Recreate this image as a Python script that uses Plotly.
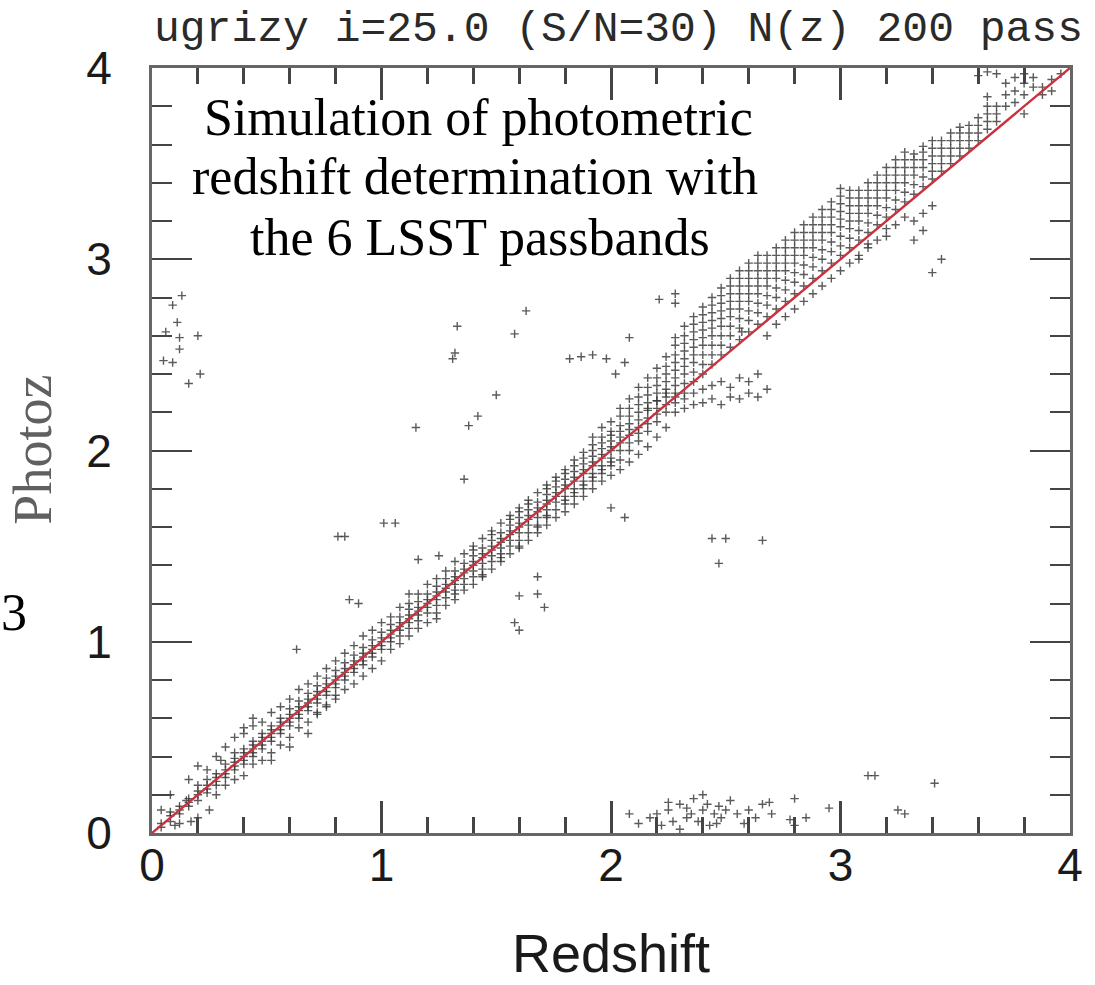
import plotly.graph_objects as go

# ---------------- data ----------------
# main band, one column of photo-z values per spectroscopic redshift
band_low_z = [0.04, 0.08, 0.12, 0.16, 0.20, 0.24, 0.28, 0.32, 0.36, 0.40, 0.44, 0.48, 0.52,
              0.56, 0.60, 0.64, 0.68, 0.72, 0.76, 0.80, 0.84, 0.88, 0.92, 0.96, 1.00]
band_low_pz = [
    [0.03, 0.05, 0.12], [0.06, 0.09, 0.11, 0.2], [0.1, 0.12, 0.14, 0.05], [0.14, 0.16, 0.18, 0.28],
    [0.17, 0.2, 0.22, 0.25, 0.08, 0.35], [0.21, 0.23, 0.25, 0.28, 0.33], [0.25, 0.27, 0.29, 0.31, 0.2, 0.4],
    [0.29, 0.31, 0.33, 0.36, 0.25, 0.45], [0.33, 0.35, 0.37, 0.39, 0.42, 0.28, 0.5],
    [0.36, 0.38, 0.4, 0.42, 0.44, 0.3, 0.52, 0.55], [0.4, 0.42, 0.44, 0.46, 0.48, 0.36, 0.56, 0.6],
    [0.44, 0.46, 0.48, 0.5, 0.52, 0.38, 0.58], [0.48, 0.5, 0.52, 0.54, 0.56, 0.42, 0.63, 0.38],
    [0.52, 0.54, 0.56, 0.58, 0.6, 0.46, 0.66], [0.56, 0.58, 0.6, 0.62, 0.65, 0.5, 0.7, 0.45],
    [0.6, 0.62, 0.64, 0.66, 0.69, 0.55, 0.75], [0.64, 0.66, 0.68, 0.7, 0.73, 0.58, 0.78, 0.52],
    [0.68, 0.7, 0.72, 0.74, 0.77, 0.62, 0.82, 0.63], [0.72, 0.74, 0.76, 0.78, 0.81, 0.66, 0.86, 0.67],
    [0.76, 0.78, 0.8, 0.82, 0.85, 0.7, 0.9, 0.72], [0.8, 0.82, 0.84, 0.86, 0.89, 0.75, 0.94],
    [0.84, 0.86, 0.88, 0.9, 0.93, 0.78, 0.98], [0.88, 0.9, 0.92, 0.94, 0.97, 0.82, 1.03],
    [0.92, 0.94, 0.96, 0.98, 1.01, 0.86, 1.06], [0.96, 0.98, 1.0, 1.02, 1.05, 0.9, 1.1]]

band_mid_z = [1.04, 1.08, 1.12, 1.16, 1.20, 1.24, 1.28, 1.32, 1.36, 1.40, 1.44, 1.48, 1.52,
              1.56, 1.60, 1.64, 1.68, 1.72, 1.76, 1.80, 1.84, 1.88, 1.92, 1.96, 2.00]
band_mid_pz = [
    [1.0, 1.02, 1.04, 1.06, 1.09, 0.96, 1.13], [1.03, 1.06, 1.08, 1.1, 1.13, 0.99, 1.18],
    [1.07, 1.1, 1.12, 1.14, 1.17, 1.03, 1.2, 1.25], [1.11, 1.14, 1.16, 1.18, 1.21, 1.07, 1.25],
    [1.15, 1.18, 1.2, 1.22, 1.25, 1.1, 1.3], [1.19, 1.22, 1.24, 1.26, 1.29, 1.15, 1.33, 1.12],
    [1.23, 1.26, 1.28, 1.3, 1.33, 1.19, 1.37], [1.27, 1.3, 1.32, 1.34, 1.37, 1.22, 1.42, 1.25],
    [1.3, 1.33, 1.36, 1.38, 1.41, 1.27, 1.46], [1.34, 1.37, 1.4, 1.42, 1.45, 1.3, 1.5, 1.48],
    [1.38, 1.41, 1.44, 1.46, 1.49, 1.34, 1.54, 1.35], [1.42, 1.45, 1.48, 1.5, 1.53, 1.38, 1.58, 1.56],
    [1.46, 1.49, 1.52, 1.54, 1.57, 1.42, 1.62, 1.44], [1.5, 1.53, 1.56, 1.58, 1.61, 1.46, 1.66, 1.64],
    [1.53, 1.57, 1.6, 1.62, 1.65, 1.49, 1.7, 1.68, 1.5], [1.57, 1.61, 1.64, 1.66, 1.69, 1.53, 1.74, 1.72],
    [1.61, 1.65, 1.68, 1.7, 1.73, 1.57, 1.78, 1.6], [1.65, 1.69, 1.72, 1.74, 1.77, 1.61, 1.82, 1.8, 1.66],
    [1.69, 1.73, 1.76, 1.78, 1.81, 1.65, 1.86, 1.84], [1.72, 1.76, 1.8, 1.82, 1.85, 1.68, 1.9, 1.88, 1.74],
    [1.76, 1.8, 1.84, 1.86, 1.89, 1.72, 1.95, 1.92, 1.78], [1.8, 1.84, 1.88, 1.9, 1.93, 1.76, 1.99, 1.96, 1.82],
    [1.84, 1.88, 1.92, 1.94, 1.97, 1.8, 2.03, 2.0, 1.86, 2.07],
    [1.88, 1.92, 1.96, 1.98, 2.01, 1.84, 2.07, 2.04, 1.9, 2.12],
    [1.92, 1.96, 2.0, 2.02, 2.05, 1.87, 2.1, 2.08, 1.94, 2.15]]

band_high_z = [2.04, 2.08, 2.12, 2.16, 2.20, 2.24, 2.28, 2.32, 2.36, 2.40, 2.44, 2.48,
               2.52, 2.56, 2.60, 2.64, 2.68, 2.72, 2.76, 2.80, 2.84, 2.88, 2.92, 2.96]
band_high_pz = [
    [1.95, 2.0, 2.04, 2.07, 2.1, 2.13, 2.18, 1.9, 2.22], [2.0, 2.04, 2.08, 2.11, 2.14, 2.18, 2.22, 1.94, 2.27],
    [2.05, 2.09, 2.12, 2.16, 2.2, 2.24, 2.28, 1.98, 2.33], [2.1, 2.14, 2.17, 2.21, 2.25, 2.29, 2.33, 2.02, 2.38, 2.22],
    [2.15, 2.19, 2.22, 2.26, 2.3, 2.34, 2.38, 2.43, 2.07, 2.26],
    [2.2, 2.24, 2.28, 2.32, 2.36, 2.4, 2.44, 2.49, 2.12, 2.3],
    [2.25, 2.3, 2.34, 2.38, 2.42, 2.46, 2.5, 2.55, 2.2, 2.28, 2.59],
    [2.3, 2.35, 2.4, 2.44, 2.48, 2.52, 2.56, 2.6, 2.22, 2.27, 2.65],
    [2.36, 2.41, 2.46, 2.5, 2.54, 2.58, 2.62, 2.66, 2.24, 2.3, 2.7],
    [2.4, 2.45, 2.5, 2.55, 2.59, 2.63, 2.67, 2.71, 2.25, 2.32, 2.75],
    [2.45, 2.5, 2.55, 2.6, 2.64, 2.68, 2.72, 2.76, 2.27, 2.34, 2.8],
    [2.5, 2.55, 2.6, 2.65, 2.69, 2.73, 2.77, 2.81, 2.24, 2.36, 2.85],
    [2.54, 2.6, 2.65, 2.7, 2.74, 2.78, 2.82, 2.86, 2.28, 2.33, 2.9],
    [2.58, 2.64, 2.69, 2.74, 2.78, 2.82, 2.86, 2.9, 2.27, 2.38, 2.94],
    [2.62, 2.68, 2.73, 2.78, 2.82, 2.86, 2.9, 2.94, 2.3, 2.36, 2.98],
    [2.66, 2.72, 2.77, 2.82, 2.86, 2.9, 2.94, 2.98, 2.28, 2.4, 3.02],
    [2.7, 2.76, 2.81, 2.86, 2.9, 2.94, 2.98, 3.02, 2.32, 2.6],
    [2.74, 2.8, 2.85, 2.9, 2.94, 2.98, 3.02, 3.06, 2.66],
    [2.78, 2.84, 2.89, 2.94, 2.98, 3.02, 3.06, 3.1, 2.7],
    [2.82, 2.88, 2.93, 2.98, 3.02, 3.06, 3.1, 3.14, 2.74],
    [2.86, 2.92, 2.97, 3.02, 3.06, 3.1, 3.14, 3.18, 2.78],
    [2.9, 2.96, 3.01, 3.06, 3.1, 3.14, 3.18, 3.22, 2.82],
    [2.94, 3.0, 3.05, 3.1, 3.14, 3.18, 3.22, 3.26, 2.86],
    [2.98, 3.04, 3.09, 3.14, 3.18, 3.22, 3.26, 3.3, 2.9]]

band_top_z = [3.00, 3.04, 3.08, 3.12, 3.16, 3.20, 3.24, 3.28, 3.32, 3.36, 3.40, 3.44, 3.48,
              3.52, 3.56, 3.60, 3.64, 3.68, 3.72, 3.76, 3.80, 3.84, 3.88, 3.92, 3.96]
band_top_pz = [
    [3.02, 3.07, 3.12, 3.17, 3.21, 3.25, 3.29, 3.33, 2.94, 3.37], [3.06, 3.11, 3.16, 3.2, 3.24, 3.28, 3.32, 2.98, 3.36],
    [3.1, 3.15, 3.2, 3.24, 3.28, 3.32, 3.36, 3.02, 3.0], [3.14, 3.19, 3.24, 3.28, 3.32, 3.36, 3.4, 3.06, 3.08],
    [3.18, 3.23, 3.28, 3.32, 3.36, 3.4, 3.44, 3.1], [3.22, 3.27, 3.32, 3.36, 3.4, 3.44, 3.48, 3.12, 3.16],
    [3.26, 3.31, 3.36, 3.4, 3.44, 3.48, 3.52, 3.18], [3.3, 3.35, 3.4, 3.44, 3.48, 3.52, 3.56, 3.22],
    [3.34, 3.39, 3.44, 3.48, 3.52, 3.55, 3.1, 3.2], [3.38, 3.43, 3.48, 3.52, 3.56, 3.59, 3.15, 3.24],
    [3.42, 3.46, 3.5, 3.54, 3.58, 3.62, 2.93, 3.28], [3.46, 3.5, 3.54, 3.58, 3.62, 3.0],
    [3.5, 3.54, 3.58, 3.62, 3.66], [3.54, 3.58, 3.62, 3.66, 3.69], [3.58, 3.62, 3.66, 3.7],
    [3.62, 3.66, 3.7, 3.74, 3.96], [3.68, 3.72, 3.76, 3.8, 3.85, 3.98], [3.72, 3.76, 3.8, 3.97],
    [3.8, 3.86, 3.92], [3.82, 3.88, 3.95], [3.86, 3.92, 3.97, 3.76], [3.9, 3.95], [3.9, 3.86],
    [3.94, 3.88], [3.97]]

# catastrophic low photo-z outliers
low_z = [2.08, 2.12, 2.17, 2.20, 2.22, 2.25, 2.27, 2.30, 2.30, 2.33, 2.35, 2.36, 2.38, 2.40,
         2.42, 2.43, 2.45, 2.47, 2.48, 2.50, 2.52, 2.55, 2.58, 2.60, 2.63, 2.66, 2.69, 2.70,
         2.78, 2.80, 2.80, 2.85, 2.95, 3.12, 3.15, 3.25, 3.28, 3.41, 2.25, 2.40, 2.46, 2.33]
low_pz = [0.10, 0.05, 0.08, 0.10, 0.04, 0.12, 0.06, 0.02, 0.15, 0.08, 0.10, 0.18, 0.06, 0.12,
          0.15, 0.04, 0.10, 0.14, 0.08, 0.12, 0.17, 0.10, 0.05, 0.12, 0.08, 0.15, 0.16, 0.10,
          0.07, 0.04, 0.18, 0.08, 0.13, 0.30, 0.30, 0.12, 0.10, 0.26, 0.16, 0.20, 0.05, 0.13]

# other isolated outliers
scatter_z = [0.13, 0.09, 0.11, 0.06, 0.12, 0.20, 0.12, 0.05, 0.09, 0.21, 0.16,
             1.33, 1.32, 1.63, 1.58, 1.31, 1.50, 1.42, 1.38, 1.15, 1.36, 1.16,
             2.06, 2.00, 2.44, 2.50, 2.47, 2.66, 1.82, 1.87, 1.92, 1.98, 2.06, 2.08,
             2.21, 2.28, 2.28, 0.81, 0.84, 1.01, 1.06, 1.60, 1.68, 1.71, 1.58, 1.60,
             0.86, 1.68, 0.63, 0.90, 1.25, 2.02, 2.57, 0.10, 0.17, 0.15, 0.25, 0.30]
scatter_pz = [2.81, 2.76, 2.67, 2.62, 2.59, 2.60, 2.53, 2.47, 2.46, 2.40, 2.35,
              2.65, 2.51, 2.73, 2.61, 2.48, 2.29, 2.18, 2.13, 2.12, 1.85, 1.43,
              1.65, 1.70, 1.54, 1.54, 1.41, 1.53, 2.48, 2.49, 2.50, 2.48, 2.46, 2.59,
              2.79, 2.77, 2.82, 1.55, 1.55, 1.62, 1.62, 1.24, 1.25, 1.18, 1.10, 1.06,
              1.22, 1.34, 0.96, 1.20, 1.45, 2.40, 2.62, 0.04, 0.06, 0.17, 0.12, 0.38]

diag = [0, 4]

# ---------------- build figure ----------------
def flatten(zs, pzs):
    xs, ys = [], []
    for z, col in zip(zs, pzs):
        for p in col:
            xs.append(z)
            ys.append(p)
    return xs, ys

all_x, all_y = [], []
for zs, pzs in [(band_low_z, band_low_pz), (band_mid_z, band_mid_pz),
                (band_high_z, band_high_pz), (band_top_z, band_top_pz)]:
    xs, ys = flatten(zs, pzs)
    all_x += xs
    all_y += ys
all_x += low_z + scatter_z
all_y += low_pz + scatter_pz

fig = go.Figure()
fig.add_trace(go.Scatter(
    x=all_x, y=all_y, mode="markers",
    marker=dict(symbol="cross-thin", size=6, line=dict(width=1.4, color="rgba(50,50,50,0.8)")),
    showlegend=False, hoverinfo="skip"))
fig.add_trace(go.Scatter(
    x=diag, y=diag, mode="lines",
    line=dict(color="#c8323f", width=2.4), showlegend=False))

axis_common = dict(
    range=[0, 4], dtick=1, tick0=0, showgrid=False, zeroline=False,
    showline=True, linecolor="#666", linewidth=3, mirror="ticks",
    ticks="inside", tickcolor="#444",
    tickfont=dict(family="Liberation Sans, Arial, sans-serif", size=46, color="#1a1a1a"),
)
fig.update_xaxes(**axis_common, ticklen=32, tickwidth=3,
                 minor=dict(dtick=0.2, ticks="inside", ticklen=16, tickwidth=3, tickcolor="#444"),
                 ticklabelstandoff=-10)
fig.update_yaxes(**axis_common, ticklen=40, tickwidth=2,
                 minor=dict(dtick=0.2, ticks="inside", ticklen=20, tickwidth=2, tickcolor="#444"),
                 ticklabelstandoff=28)

serif = "Liberation Serif, Times New Roman, serif"
annotations = [
    dict(text="ugrizy i=25.0 (S/N=30) N(z) 200 pass", x=621, y=30,
         font=dict(family="Liberation Mono, Courier New, monospace", size=43, color="#2a2a2a")),
    dict(text="Simulation of photometric", x=480, y=117, font=dict(family=serif, size=52, color="#000")),
    dict(text="redshift determination with", x=477, y=177, font=dict(family=serif, size=52, color="#000")),
    dict(text="the 6 LSST passbands", x=482, y=237, font=dict(family=serif, size=52, color="#000")),
    dict(text="3", x=13, y=612, font=dict(family=serif, size=52, color="#000")),
    dict(text="Photoz", x=32, y=450, textangle=-90, font=dict(family=serif, size=54, color="#606060")),
    dict(text="Redshift", x=613, y=953, font=dict(family="Liberation Sans, Arial, sans-serif", size=54, color="#1a1a1a")),
]
# convert pixel positions to paper coordinates
W, H = 1095, 985
L, R, T, B = 152, 20, 68, 152
pw, ph = W - L - R, H - T - B
for a in annotations:
    a["x"] = (a["x"] - L) / pw
    a["y"] = 1 - (a["y"] - T) / ph
    a["xref"] = "paper"
    a["yref"] = "paper"
    a["xanchor"] = "center"
    a["yanchor"] = "middle"
    a["showarrow"] = False

fig.update_layout(
    width=W, height=H,
    margin=dict(l=L, r=R, t=T, b=B),
    plot_bgcolor="white", paper_bgcolor="white",
    annotations=annotations,
)

fig.write_html("out.html")
